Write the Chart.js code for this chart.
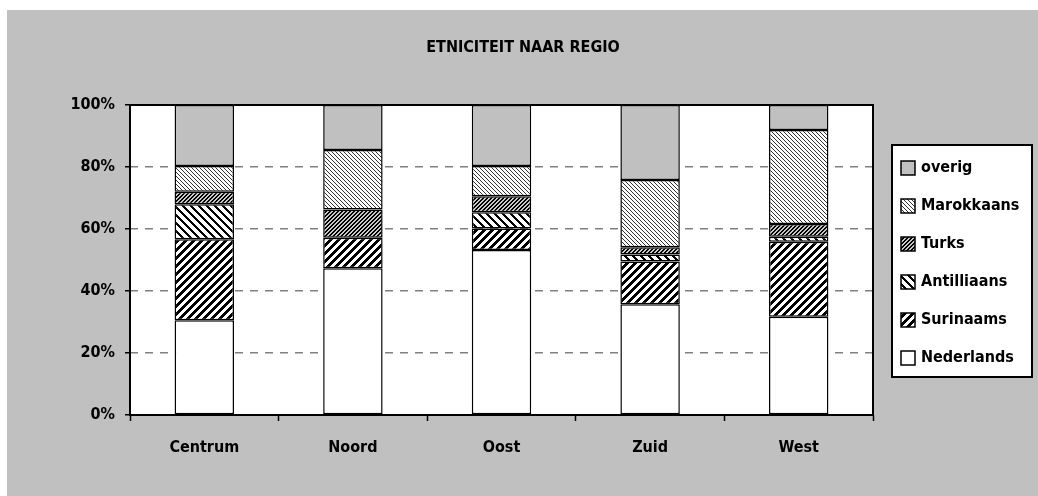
<!DOCTYPE html>
<html>
<head>
<meta charset="utf-8">
<script src="https://cdn.jsdelivr.net/npm/chart.js@4/dist/chart.umd.min.js"></script>
<style>
  html, body { margin: 0; padding: 0; background: #fff; }
  canvas { display: block; }
</style>
</head>
<body>
<canvas id="chart" width="1038" height="496"></canvas>
<script>
const categories = ["Centrum", "Noord", "Oost", "Zuid", "West"];
const nederlands = [30.6, 47.3, 53.2, 35.7, 31.7];
const surinaams = [26.1, 9.9, 7.0, 13.8, 24.2];
const antilliaans = [11.3, 0.0, 5.2, 2.3, 1.6];
const turks = [4.0, 9.1, 5.2, 2.3, 4.1];
const marokkaans = [8.3, 19.2, 9.7, 21.7, 30.3];
const overig = [19.7, 14.5, 19.7, 24.2, 8.1];
const yTicks = [0, 20, 40, 60, 80, 100];
const chartTitle = "ETNICITEIT NAAR REGIO";

const FONT = "'DejaVu Sans Condensed', 'DejaVu Sans', sans-serif";
const canvas = document.getElementById("chart");
const ctx = canvas.getContext("2d");

// pixel patterns like the old excel fills
function makePattern(size, fg, bg, test) {
    const c = document.createElement("canvas");
    c.width = size;
    c.height = size;
    const g = c.getContext("2d");
    g.fillStyle = bg;
    g.fillRect(0, 0, size, size);
    g.fillStyle = fg;
    for (let y = 0; y < size; y++) {
        for (let x = 0; x < size; x++) {
            if (test(x, y)) g.fillRect(x, y, 1, 1);
        }
    }
    return ctx.createPattern(c, "repeat");
}

const fillSurinaams = makePattern(8, "#000", "#fff", (x, y) => (x + y) % 8 < 4);
const fillAntilliaans = makePattern(8, "#000", "#fff", (x, y) => (x - y + 8) % 8 < 3);
const fillTurks = makePattern(4, "#000", "#c8c8c8", (x, y) => (x + y) % 4 < 2);
const fillMarokkaans = makePattern(4, "#303030", "#fff", (x, y) => (x - y + 4) % 4 === 0);

const series = [
    { label: "Nederlands", data: nederlands, fill: "#ffffff" },
    { label: "Surinaams", data: surinaams, fill: fillSurinaams },
    { label: "Antilliaans", data: antilliaans, fill: fillAntilliaans },
    { label: "Turks", data: turks, fill: fillTurks },
    { label: "Marokkaans", data: marokkaans, fill: fillMarokkaans },
    { label: "overig", data: overig, fill: "#c0c0c0" }
];

const backgroundPlugin = {
    id: "bg",
    beforeDraw(chart) {
        const c = chart.ctx;
        const a = chart.chartArea;
        c.save();
        c.fillStyle = "#fff";
        c.fillRect(0, 0, chart.width, chart.height);
        c.fillStyle = "#c0c0c0";
        c.fillRect(7, 10, chart.width - 7, chart.height - 10);
        c.fillStyle = "#fff";
        c.fillRect(a.left, a.top, a.right - a.left, a.bottom - a.top);

        c.fillStyle = "#000";
        c.font = "bold 16px " + FONT;
        c.textAlign = "center";
        c.textBaseline = "middle";
        c.fillText(chartTitle, 523, 48);
        c.restore();
    },
    afterDraw(chart) {
        const c = chart.ctx;
        const a = chart.chartArea;
        c.save();
        c.strokeStyle = "#000";
        c.lineWidth = 2;
        c.strokeRect(a.left, a.top, a.right - a.left, a.bottom - a.top);

        // legend box on the right
        const bx = 892, by = 145, bw = 140, bh = 232;
        c.fillStyle = "#fff";
        c.fillRect(bx, by, bw, bh);
        c.strokeRect(bx, by, bw, bh);
        c.font = "bold 16px " + FONT;
        c.textBaseline = "middle";
        c.textAlign = "left";
        const items = chart.data.datasets.slice().reverse();
        items.forEach((ds, i) => {
            const cy = 168 + i * 38;
            c.fillStyle = ds.backgroundColor;
            c.fillRect(901, cy - 7, 14, 14);
            c.lineWidth = 1.5;
            c.strokeStyle = "#000";
            c.strokeRect(901, cy - 7, 14, 14);
            c.fillStyle = "#000";
            c.fillText(ds.label, 921, cy);
        });
        c.restore();
    }
};

new Chart(ctx, {
    type: "bar",
    data: {
        labels: categories,
        datasets: series.map(s => ({
            label: s.label,
            data: s.data,
            backgroundColor: s.fill,
            borderColor: "#000",
            borderWidth: 1.5,
            borderSkipped: false,
            barPercentage: 0.4,
            categoryPercentage: 1.0
        }))
    },
    options: {
        responsive: false,
        animation: false,
        devicePixelRatio: 1,
        layout: { padding: { left: 0, right: 165, top: 105, bottom: 0 } },
        plugins: {
            legend: { display: false },
            tooltip: { enabled: false },
            title: { display: false }
        },
        scales: {
            x: {
                stacked: true,
                grid: {
                    offset: true,
                    drawOnChartArea: false,
                    drawTicks: true,
                    tickLength: 6,
                    tickColor: "#000",
                    tickWidth: 1.5
                },
                border: { display: false },
                ticks: {
                    color: "#000",
                    padding: 17,
                    font: { family: FONT, size: 16, weight: "bold" }
                },
                afterFit(scale) { scale.height = 81; }
            },
            y: {
                stacked: true,
                min: 0,
                max: 100,
                afterBuildTicks(scale) {
                    scale.ticks = yTicks.map(v => ({ value: v }));
                },
                grid: {
                    color: c => (c.tick && (c.tick.value === 0 || c.tick.value === 100)) ? "rgba(0,0,0,0)" : "#808080",
                    lineWidth: 1.5,
                    tickLength: 5,
                    tickColor: "#000",
                    tickWidth: 1.5,
                    tickBorderDash: []
                },
                border: { display: false, dash: [8, 7] },
                ticks: {
                    color: "#000",
                    padding: 10,
                    font: { family: FONT, size: 16, weight: "bold" },
                    callback: v => v + "%"
                },
                afterFit(scale) { scale.width = 130; }
            }
        }
    },
    plugins: [backgroundPlugin]
});
</script>
</body>
</html>
